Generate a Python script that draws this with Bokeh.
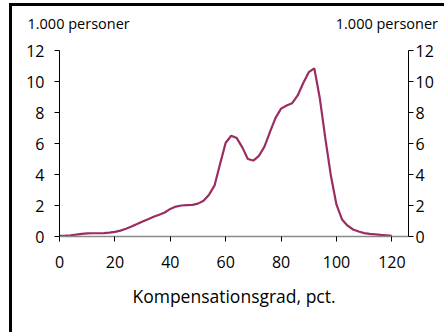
from bokeh.plotting import figure
from bokeh.models import LinearAxis, Range1d, FixedTicker
from bokeh.embed import file_html
from bokeh.resources import INLINE

# Data: compensation degree (pct.) vs. number of persons (1,000)
komp_pct = [0, 2, 4, 6, 8, 10, 12, 14, 16, 18, 20, 22, 24, 26, 28, 30, 32, 34, 36, 38,
            40, 42, 44, 46, 48, 50, 52, 54, 56, 58, 60, 62, 64, 66, 68, 70, 72, 74, 76, 78,
            80, 82, 84, 86, 88, 90, 92, 94, 96, 98, 100, 102, 104, 106, 108, 110, 112, 114,
            116, 118, 120]
personer = [0.05, 0.06, 0.08, 0.12, 0.17, 0.20, 0.21, 0.21, 0.22, 0.25, 0.30, 0.38, 0.50,
            0.64, 0.80, 0.97, 1.12, 1.27, 1.40, 1.55, 1.78, 1.93, 2.00, 2.02, 2.04, 2.12,
            2.30, 2.70, 3.30, 4.70, 6.05, 6.50, 6.35, 5.75, 5.00, 4.90, 5.20, 5.80, 6.75,
            7.65, 8.25, 8.45, 8.60, 9.10, 9.90, 10.60, 10.85, 8.90, 6.30, 3.90, 2.05, 1.10,
            0.70, 0.45, 0.32, 0.22, 0.17, 0.14, 0.10, 0.08, 0.05]
y_ticks = [0, 2, 4, 6, 8, 10, 12]
x_ticks = [0, 20, 40, 60, 80, 100, 120]
x_title = "Kompensationsgrad, pct."
unit_label = "1.000 personer"
unit_label_at = [6.9, 118.2]   # x-positions (pct. scale) of the two unit labels

FONT = "Open Sans"

p = figure(width=435, height=329, output_backend="svg", toolbar_location=None,
           x_range=Range1d(0, 126), y_range=Range1d(0, 12),
           min_border_left=47, min_border_right=39, min_border_top=44, min_border_bottom=99,
           y_axis_location=None)
p.grid.visible = False
p.outline_line_color = None
p.background_fill_color = "white"
p.border_fill_color = "white"
p.styles = {"border-left": "3px solid black", "border-top": "3px solid black",
            "margin-top": "3px", "margin-left": "9px"}

p.line(komp_pct, personer, line_color="#9B2D62", line_width=2.2)

# x axis
xa = p.xaxis[0]
xa.ticker = FixedTicker(ticks=x_ticks)
xa.axis_line_color = "#8a8a8a"
xa.axis_line_width = 1.5
xa.major_tick_line_color = "black"
xa.major_tick_in = 0
xa.major_tick_out = 5
xa.minor_tick_line_color = None
xa.major_label_text_font = FONT
xa.major_label_text_font_size = "16px"
xa.major_label_text_color = "black"
xa.major_label_standoff = 14
xa.axis_label = x_title
xa.axis_label_text_font = FONT
xa.axis_label_text_font_size = "17.5px"
xa.axis_label_text_font_style = "normal"
xa.axis_label_text_color = "black"
xa.axis_label_standoff = 13

for side, standoff in (("left", 10), ("right", 2)):
    ya = LinearAxis(ticker=FixedTicker(ticks=y_ticks))
    ya.axis_line_color = "black"
    ya.axis_line_width = 1
    ya.major_tick_line_color = "black"
    ya.major_tick_in = 0
    ya.major_tick_out = 5
    ya.minor_tick_line_color = None
    ya.major_label_text_font = FONT
    ya.major_label_text_font_size = "16px"
    ya.major_label_text_color = "black"
    ya.major_label_standoff = standoff
    p.add_layout(ya, side)

# unit labels above the two value axes
ua = LinearAxis(ticker=FixedTicker(ticks=unit_label_at),
                major_label_overrides={v: unit_label for v in unit_label_at})
ua.axis_line_color = None
ua.major_tick_line_color = None
ua.minor_tick_line_color = None
ua.major_label_text_font = FONT
ua.major_label_text_font_size = "14.5px"
ua.major_label_text_color = "black"
ua.major_label_standoff = 12
p.add_layout(ua, "above")

open("out.html", "w").write(file_html(p, INLINE))
